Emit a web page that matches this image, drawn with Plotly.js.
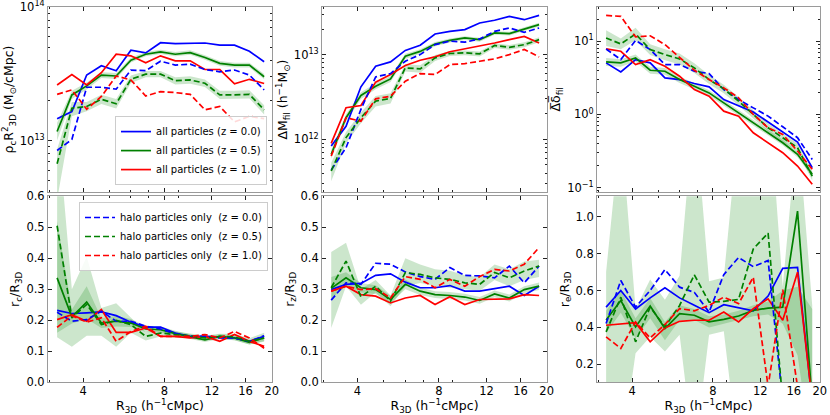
<!DOCTYPE html>
<html><head><meta charset="utf-8">
<script src="https://cdn.plot.ly/plotly-3.0.1.min.js"></script>
<style>html,body{margin:0;padding:0;background:#fff}#chart{width:830px;height:415px}</style>
</head><body><div id="chart"></div>
<script>
// ---------- data ----------
const R3D = [3.20, 3.63, 4.12, 4.67, 5.30, 6.01, 6.82, 7.74, 8.78, 9.97, 11.31, 12.84, 14.56, 16.53, 18.75];
const X_TICKS = [4, 8, 12, 16, 20];
const X_MINOR = [3, 5, 6, 7, 9];

const ALL_NAMES = ['all particles (z = 0.0)', 'all particles (z = 0.5)', 'all particles (z = 1.0)'];
const HALO_NAMES = ['halo particles only \u00a0(z = 0.0)', 'halo particles only \u00a0(z = 0.5)', 'halo particles only \u00a0(z = 1.0)'];

// top-left: rho_c R3D^2
const rhoAllZ0  = [1.46e13, 1.65e13, 3.10e13, 3.64e13, 3.34e13, 4.76e13, 4.54e13, 5.42e13, 5.33e13, 5.39e13, 5.39e13, 5.19e13, 5.19e13, 4.68e13, 3.90e13];
const rhoAllZ05 = [1.17e13, 2.20e13, 2.57e13, 3.10e13, 3.05e13, 4.01e13, 4.44e13, 4.62e13, 4.44e13, 4.57e13, 4.20e13, 3.79e13, 3.68e13, 3.68e13, 3.01e13];
const rhoAllZ1  = [2.61e13, 3.13e13, 2.61e13, 3.23e13, 4.44e13, 4.32e13, 3.83e13, 4.32e13, 3.96e13, 3.96e13, 3.41e13, 3.41e13, 2.66e13, 2.88e13, 2.68e13];
const rhoHaloZ0  = [8.43e12, 1.02e13, 2.51e13, 2.51e13, 2.43e13, 3.38e13, 3.34e13, 3.94e13, 3.68e13, 3.74e13, 3.41e13, 3.28e13, 3.38e13, 3.10e13, 2.40e13];
const rhoHaloZ05 = [6.70e12, 1.75e13, 1.80e13, 2.04e13, 1.89e13, 2.88e13, 3.15e13, 3.15e13, 2.81e13, 2.85e13, 2.69e13, 2.20e13, 2.20e13, 2.22e13, 1.70e13];
const rhoHaloZ1  = [2.22e13, 2.40e13, 1.72e13, 2.14e13, 3.05e13, 2.85e13, 2.16e13, 2.33e13, 2.29e13, 2.22e13, 1.70e13, 1.80e13, 1.38e13, 1.52e13, 1.46e13];
const rhoBandAllLo  = [1.00e13, 2.05e13, 2.42e13, 2.95e13, 2.90e13, 3.85e13, 4.28e13, 4.45e13, 4.28e13, 4.40e13, 4.04e13, 3.64e13, 3.53e13, 3.53e13, 2.88e13];
const rhoBandAllHi  = [1.36e13, 2.36e13, 2.72e13, 3.26e13, 3.21e13, 4.18e13, 4.62e13, 4.80e13, 4.62e13, 4.75e13, 4.37e13, 3.95e13, 3.83e13, 3.83e13, 3.15e13];
const rhoBandHaloLo = [3.6e12, 1.52e13, 1.66e13, 1.88e13, 1.74e13, 2.70e13, 2.98e13, 2.98e13, 2.63e13, 2.67e13, 2.52e13, 2.05e13, 2.05e13, 2.07e13, 1.57e13];
const rhoBandHaloHi = [8.6e12, 1.95e13, 1.95e13, 2.21e13, 2.05e13, 3.07e13, 3.33e13, 3.33e13, 2.99e13, 3.03e13, 2.87e13, 2.36e13, 2.36e13, 2.38e13, 1.84e13];

// top-middle: Delta M_fil
const dmAllZ0  = [8.35e11, 1.43e12, 4.17e12, 7.30e12, 8.20e12, 1.12e13, 1.29e13, 1.75e13, 1.88e13, 1.97e13, 2.36e13, 2.54e13, 2.82e13, 2.58e13, 2.90e13];
const dmAllZ05 = [6.66e11, 1.80e12, 3.30e12, 4.24e12, 5.17e12, 9.55e12, 1.09e13, 1.33e13, 1.47e13, 1.57e13, 1.50e13, 1.80e13, 1.77e13, 2.00e13, 2.26e13];
const dmAllZ1  = [8.97e11, 2.36e12, 2.51e12, 4.73e12, 5.82e12, 7.43e12, 8.58e12, 9.39e12, 1.08e13, 1.17e13, 1.25e13, 1.37e13, 1.50e13, 1.64e13, 1.37e13];
const dmHaloZ0  = [4.35e11, 7.98e11, 2.26e12, 5.46e12, 5.98e12, 8.35e12, 1.00e13, 1.31e13, 1.44e13, 1.40e13, 1.53e13, 1.88e13, 2.06e13, 1.83e13, 2.06e13];
const dmHaloZ05 = [4.24e11, 1.05e12, 1.80e12, 2.83e12, 3.04e12, 6.97e12, 6.78e12, 9.14e12, 1.03e13, 1.05e13, 1.02e13, 1.28e13, 1.22e13, 1.31e13, 1.50e13];
const dmHaloZ1  = [6.37e11, 1.80e12, 1.64e12, 3.01e12, 3.23e12, 4.85e12, 5.98e12, 5.82e12, 7.62e12, 7.83e12, 8.35e12, 8.90e12, 1.00e13, 1.15e13, 9.39e12];
const dmBandAllLo  = [5.9e11, 1.62e12, 3.0e12, 3.9e12, 4.75e12, 8.9e12, 1.02e13, 1.25e13, 1.39e13, 1.49e13, 1.42e13, 1.71e13, 1.68e13, 1.90e13, 2.15e13];
const dmBandAllHi  = [7.5e11, 1.98e12, 3.6e12, 4.6e12, 5.6e12, 1.02e13, 1.16e13, 1.41e13, 1.55e13, 1.65e13, 1.58e13, 1.89e13, 1.86e13, 2.10e13, 2.37e13];
const dmBandHaloLo = [3.2e11, 9.0e11, 1.55e12, 2.45e12, 2.65e12, 6.3e12, 6.1e12, 8.4e12, 9.6e12, 9.8e12, 9.5e12, 1.20e13, 1.14e13, 1.22e13, 1.40e13];
const dmBandHaloHi = [5.3e11, 1.22e12, 2.08e12, 3.25e12, 3.5e12, 7.7e12, 7.5e12, 9.9e12, 1.10e13, 1.12e13, 1.09e13, 1.36e13, 1.30e13, 1.40e13, 1.60e13];

// top-right: mean Delta delta_fil
const ddAllZ0  = [5.07, 3.82, 5.62, 5.07, 3.16, 3.00, 2.65, 2.38, 1.60, 1.30, 1.08, 0.79, 0.574, 0.420, 0.187];
const ddAllZ05 = [5.23, 5.07, 5.93, 4.02, 3.90, 3.00, 2.43, 1.97, 1.44, 1.05, 0.770, 0.562, 0.411, 0.285, 0.152];
const ddAllZ1  = [7.86, 7.31, 4.81, 5.62, 4.56, 3.33, 2.19, 1.78, 1.11, 0.949, 0.562, 0.411, 0.300, 0.197, 0.111];
const ddHaloZ0  = [7.86, 5.62, 10.3, 7.70, 4.81, 4.81, 3.90, 3.62, 2.19, 1.60, 1.23, 0.949, 0.679, 0.481, 0.243];
const ddHaloZ05 = [11.1, 9.20, 12.6, 7.70, 6.58, 5.74, 4.33, 3.00, 2.24, 1.52, 1.00, 0.658, 0.481, 0.351, 0.144];
const ddHaloZ1  = [22.6, 21.9, 11.5, 11.9, 9.01, 5.93, 4.02, 3.00, 2.31, 1.69, 1.00, 0.658, 0.534, 0.316, 0.178];
const ddBandAllLo  = [4.6, 4.5, 5.3, 3.6, 3.5, 2.7, 2.2, 1.8, 1.32, 0.96, 0.71, 0.52, 0.38, 0.26, 0.14];
const ddBandAllHi  = [5.9, 5.7, 6.6, 4.5, 4.3, 3.3, 2.67, 2.15, 1.57, 1.15, 0.84, 0.61, 0.45, 0.31, 0.165];
const ddBandHaloLo = [8.6, 7.8, 10.3, 6.5, 5.5, 4.8, 3.7, 2.6, 1.95, 1.33, 0.88, 0.58, 0.42, 0.31, 0.125];
const ddBandHaloHi = [14.2, 10.9, 15.3, 9.1, 7.8, 6.8, 5.0, 3.45, 2.55, 1.73, 1.14, 0.75, 0.55, 0.40, 0.165];

// bottom-left: r_c / R3D
const rcAllZ0  = [0.232, 0.222, 0.224, 0.227, 0.215, 0.194, 0.178, 0.178, 0.159, 0.148, 0.148, 0.146, 0.143, 0.132, 0.148];
const rcAllZ05 = [0.337, 0.211, 0.259, 0.191, 0.197, 0.191, 0.172, 0.170, 0.157, 0.148, 0.137, 0.148, 0.143, 0.129, 0.143];
const rcAllZ1  = [0.202, 0.218, 0.197, 0.235, 0.161, 0.161, 0.175, 0.148, 0.148, 0.143, 0.148, 0.132, 0.154, 0.132, 0.116];
const rcHaloZ0  = [0.226, 0.197, 0.202, 0.229, 0.197, 0.197, 0.181, 0.172, 0.157, 0.148, 0.148, 0.143, 0.143, 0.132, 0.150];
const rcHaloZ05 = [0.505, 0.208, 0.251, 0.186, 0.200, 0.186, 0.148, 0.159, 0.154, 0.150, 0.143, 0.148, 0.146, 0.132, 0.143];
const rcHaloZ1  = [0.177, 0.215, 0.194, 0.208, 0.132, 0.164, 0.181, 0.148, 0.148, 0.148, 0.154, 0.143, 0.164, 0.143, 0.110];
const rcBandAllLo  = [0.16, 0.19, 0.205, 0.175, 0.180, 0.178, 0.162, 0.160, 0.148, 0.140, 0.130, 0.140, 0.136, 0.122, 0.133];
const rcBandAllHi  = [0.52, 0.235, 0.31, 0.207, 0.214, 0.204, 0.182, 0.180, 0.166, 0.156, 0.144, 0.156, 0.150, 0.136, 0.153];
const rcBandHaloLo = [0.145, 0.115, 0.15, 0.15, 0.115, 0.16, 0.135, 0.148, 0.144, 0.141, 0.135, 0.139, 0.136, 0.122, 0.131];
const rcBandHaloHi = [0.85, 0.30, 0.405, 0.24, 0.255, 0.21, 0.162, 0.170, 0.164, 0.159, 0.151, 0.157, 0.156, 0.142, 0.160];

// bottom-middle: r_z / R3D
const rzAllZ0  = [0.299, 0.316, 0.319, 0.345, 0.350, 0.323, 0.305, 0.305, 0.312, 0.294, 0.294, 0.302, 0.310, 0.280, 0.310];
const rzAllZ05 = [0.303, 0.337, 0.305, 0.299, 0.267, 0.316, 0.294, 0.283, 0.280, 0.275, 0.264, 0.285, 0.272, 0.299, 0.310];
const rzAllZ1  = [0.294, 0.310, 0.283, 0.278, 0.256, 0.272, 0.280, 0.251, 0.276, 0.251, 0.267, 0.269, 0.269, 0.283, 0.280];
const rzHaloZ0  = [0.265, 0.321, 0.316, 0.384, 0.381, 0.356, 0.341, 0.332, 0.370, 0.345, 0.343, 0.337, 0.375, 0.321, 0.375];
const rzHaloZ05 = [0.305, 0.391, 0.276, 0.310, 0.262, 0.354, 0.348, 0.337, 0.332, 0.321, 0.316, 0.354, 0.337, 0.359, 0.375];
const rzHaloZ1  = [0.294, 0.310, 0.299, 0.302, 0.272, 0.341, 0.332, 0.305, 0.332, 0.310, 0.341, 0.364, 0.359, 0.381, 0.435];
const rzBandAllLo  = [0.27, 0.31, 0.29, 0.285, 0.255, 0.30, 0.282, 0.272, 0.269, 0.264, 0.253, 0.274, 0.261, 0.288, 0.298];
const rzBandAllHi  = [0.34, 0.355, 0.32, 0.313, 0.279, 0.332, 0.306, 0.294, 0.291, 0.286, 0.275, 0.296, 0.283, 0.31, 0.322];
const rzBandHaloLo = [0.175, 0.31, 0.25, 0.29, 0.245, 0.31, 0.32, 0.31, 0.305, 0.30, 0.295, 0.33, 0.31, 0.33, 0.34];
const rzBandHaloHi = [0.42, 0.45, 0.30, 0.33, 0.28, 0.40, 0.38, 0.365, 0.36, 0.345, 0.34, 0.38, 0.365, 0.39, 0.395];

// bottom-right: r_e / R3D
const reAllZ0  = [0.51, 0.60, 0.50, 0.56, 0.615, 0.56, 0.52, 0.48, 0.523, 0.505, 0.49, 0.57, 0.72, 0.725, 0.0];
const reAllZ05 = [0.44, 0.546, 0.403, 0.516, 0.394, 0.475, 0.466, 0.43, 0.444, 0.462, 0.492, 0.505, 0.51, 1.03, 0.0];
const reAllZ1  = [0.412, 0.421, 0.426, 0.322, 0.397, 0.433, 0.439, 0.439, 0.483, 0.430, 0.502, 0.555, 0.439, 0.699, 0.0];
const reHaloZ0  = [0.421, 0.654, 0.51, 0.60, 0.713, 0.618, 0.59, 0.483, 0.686, 0.779, 0.729, 0.762, 0.0, 0.0, 0.0];
const reHaloZ05 = [0.376, 0.564, 0.322, 0.51, 0.403, 0.519, 0.685, 0.537, 0.541, 0.552, 0.825, 0.911, 0.0, 0.0, 0.0];
const reHaloZ1  = [0.349, 0.286, 0.43, 0.343, 0.416, 0.502, 0.49, 0.519, 0.564, 0.529, 0.672, 0.08, 0.605, 0.08, 0.0];
const reBandAllLo  = [0.37, 0.48, 0.34, 0.45, 0.33, 0.44, 0.44, 0.40, 0.42, 0.44, 0.46, 0.47, 0.42, 0.25, -0.3];
const reBandAllHi  = [0.49, 0.60, 0.45, 0.56, 0.43, 0.52, 0.50, 0.46, 0.47, 0.49, 0.52, 0.54, 0.60, 0.62, 0.50];
const reBandHaloLo = [-0.2, -0.3, 0.26, 0.35, 0.27, 0.36, -0.3, 0.36, 0.38, -0.3, -0.3, -0.3, -0.6, -1.0, -0.2];
const reBandHaloHi = [0.70, 1.5, 0.50, 0.66, 0.55, 0.68, 1.6, 0.65, 0.67, 1.5, 1.6, 1.7, 0.62, 1.5, 0.52];

// ---------- figure ----------
const COLORS = ['#0000ff', '#008000', '#ff0000'];
const BAND = 'rgba(0,128,0,0.2)';

const panels = [
  {all: [rhoAllZ0, rhoAllZ05, rhoAllZ1], halo: [rhoHaloZ0, rhoHaloZ05, rhoHaloZ1], band: [rhoBandAllLo, rhoBandAllHi, rhoBandHaloLo, rhoBandHaloHi], legend: 'legend'},
  {all: [dmAllZ0, dmAllZ05, dmAllZ1], halo: [dmHaloZ0, dmHaloZ05, dmHaloZ1], band: [dmBandAllLo, dmBandAllHi, dmBandHaloLo, dmBandHaloHi]},
  {all: [ddAllZ0, ddAllZ05, ddAllZ1], halo: [ddHaloZ0, ddHaloZ05, ddHaloZ1], band: [ddBandAllLo, ddBandAllHi, ddBandHaloLo, ddBandHaloHi]},
  {all: [rcAllZ0, rcAllZ05, rcAllZ1], halo: [rcHaloZ0, rcHaloZ05, rcHaloZ1], band: [rcBandAllLo, rcBandAllHi, rcBandHaloLo, rcBandHaloHi], legend: 'legend2'},
  {all: [rzAllZ0, rzAllZ05, rzAllZ1], halo: [rzHaloZ0, rzHaloZ05, rzHaloZ1], band: [rzBandAllLo, rzBandAllHi, rzBandHaloLo, rzBandHaloHi]},
  {all: [reAllZ0, reAllZ05, reAllZ1], halo: [reHaloZ0, reHaloZ05, reHaloZ1], band: [reBandAllLo, reBandAllHi, reBandHaloLo, reBandHaloHi]}
];

const traces = [];
const xloop = R3D.concat(R3D.slice().reverse());
panels.forEach((p, i) => {
  const xa = 'x' + (i ? i + 1 : '');
  const ya = 'y' + (i ? i + 1 : '');
  const bands = [[p.band[2], p.band[3]], [p.band[0], p.band[1]]];
  bands.forEach(b => {
    traces.push({x: xloop, y: b[1].concat(b[0].slice().reverse()), xaxis: xa, yaxis: ya,
      type: 'scatter', mode: 'lines', fill: 'toself', fillcolor: BAND, line: {width: 0, color: BAND},
      showlegend: false, hoverinfo: 'skip'});
  });
  p.all.forEach((y, k) => {
    traces.push({x: R3D, y: y, xaxis: xa, yaxis: ya, type: 'scatter', mode: 'lines',
      name: ALL_NAMES[k], line: {color: COLORS[k], width: 1.7},
      showlegend: p.legend === 'legend', legend: 'legend'});
  });
  p.halo.forEach((y, k) => {
    traces.push({x: R3D, y: y, xaxis: xa, yaxis: ya, type: 'scatter', mode: 'lines',
      name: HALO_NAMES[k], line: {color: COLORS[k], width: 1.7, dash: '6px,3px'},
      showlegend: p.legend === 'legend2', legend: 'legend2'});
  });
});

const FONT = 'DejaVu Sans, Liberation Sans, sans-serif';
const tickFont = {family: FONT, size: 11.5, color: '#000'};
const titleFont = {family: FONT, size: 12.5, color: '#000'};
const colX = [[0.0578, 0.3277], [0.3880, 0.6590], [0.7193, 0.9880]];
const rowY = [[0.5366, 0.9839], [0.0788, 0.5270]];

const common = {
  ticks: 'inside', ticklen: 4, tickwidth: 1, tickcolor: '#222',
  showline: true, linecolor: '#9a9a9a', linewidth: 1, mirror: 'allticks',
  showgrid: false, zeroline: false, tickfont: tickFont, ticklabeloverflow: 'allow'
};

const layout = {
  width: 830, height: 415,
  margin: {l: 0, r: 0, t: 0, b: 0},
  paper_bgcolor: '#fff', plot_bgcolor: '#fff',
  font: {family: FONT, color: '#000'},
  showlegend: true,
  legend: {x: 0.3217, xanchor: 'right', y: 0.554, yanchor: 'bottom', bgcolor: 'rgba(255,255,255,0.85)',
    bordercolor: '#cccccc', borderwidth: 1, font: {family: FONT, size: 10, color: '#000'}, tracegroupgap: 0},
  legend2: {x: 0.3229, xanchor: 'right', y: 0.5133, yanchor: 'top', bgcolor: 'rgba(255,255,255,0.85)',
    bordercolor: '#cccccc', borderwidth: 1, font: {family: FONT, size: 10, color: '#000'}, tracegroupgap: 0}
};

const xTitle = 'R<sub>3D</sub> (h<sup>\u22121</sup>cMpc)';
for (let i = 0; i < 6; i++) {
  const row = i < 3 ? 0 : 1, col = i % 3;
  const key = i ? String(i + 1) : '';
  const ax = Object.assign({}, common, {
    type: 'log', domain: colX[col], anchor: 'y' + key,
    range: [Math.log10(2.96), Math.log10(20.05)],
    tickmode: 'array', tickvals: X_TICKS, ticktext: X_TICKS.map(String),
    showticklabels: row === 1,
    minor: {tickmode: 'array', tickvals: X_MINOR, ticks: 'inside', ticklen: 2, tickcolor: '#222'}
  });
  if (row === 1) {
    ax.ticklabelstandoff = -2;
    ax.title = {text: xTitle, font: titleFont, standoff: 2};
  }
  layout['xaxis' + key] = ax;
}

const yDefs = [
  {type: 'log', range: [12.612, 14.004], tickvals: [1e13, 1e14], ticktext: ['10<sup>13</sup>', '10<sup>14</sup>'],
   minor: [5e12, 6e12, 7e12, 8e12, 9e12, 2e13, 3e13, 4e13, 5e13, 6e13, 7e13, 8e13, 9e13],
   title: '\u03c1<sub>c</sub>R<sup>2</sup><sub>3D</sub> (M<sub>\u2299</sub>/cMpc)'},
  {type: 'log', range: [11.376, 13.565], tickvals: [1e12, 1e13], ticktext: ['10<sup>12</sup>', '10<sup>13</sup>'],
   minor: [3e11, 4e11, 5e11, 6e11, 7e11, 8e11, 9e11, 2e12, 3e12, 4e12, 5e12, 6e12, 7e12, 8e12, 9e12, 2e13, 3e13],
   title: '\u0394M<sub>fil</sub> (h<sup>\u22121</sup>M<sub>\u2299</sub>)'},
  {type: 'log', range: [-1.064, 1.473], tickvals: [0.1, 1, 10], ticktext: ['10<sup>\u22121</sup>', '10<sup>0</sup>', '10<sup>1</sup>'],
   minor: [0.09, 0.2, 0.3, 0.4, 0.5, 0.6, 0.7, 0.8, 0.9, 2, 3, 4, 5, 6, 7, 8, 9, 20],
   title: '\u0394\u0305\u03b4\u0305<sub>fil</sub>'},
  {type: 'linear', range: [0, 0.6], tickvals: [0, 0.1, 0.2, 0.3, 0.4, 0.5, 0.6], title: 'r<sub>c</sub>/R<sub>3D</sub>'},
  {type: 'linear', range: [0, 0.6], tickvals: [0, 0.1, 0.2, 0.3, 0.4, 0.5, 0.6], title: 'r<sub>z</sub>/R<sub>3D</sub>'},
  {type: 'linear', range: [0.103, 1.11], tickvals: [0.2, 0.4, 0.6, 0.8, 1.0], title: 'r<sub>e</sub>/R<sub>3D</sub>'}
];

yDefs.forEach((d, i) => {
  const row = i < 3 ? 0 : 1, col = i % 3;
  const key = i ? String(i + 1) : '';
  const ax = Object.assign({}, common, {
    type: d.type, domain: rowY[row], anchor: 'x' + key, range: d.range,
    tickmode: 'array', tickvals: d.tickvals,
    title: {text: d.title, font: titleFont, standoff: 3}
  });
  if (d.ticktext) ax.ticktext = d.ticktext; else ax.tickformat = '.1f';
  if (d.minor) ax.minor = {tickmode: 'array', tickvals: d.minor, ticks: 'inside', ticklen: 2, tickcolor: '#222'};
  layout['yaxis' + key] = ax;
});

Plotly.newPlot('chart', traces, layout, {displayModeBar: false, staticPlot: true});
</script>
</body></html>
